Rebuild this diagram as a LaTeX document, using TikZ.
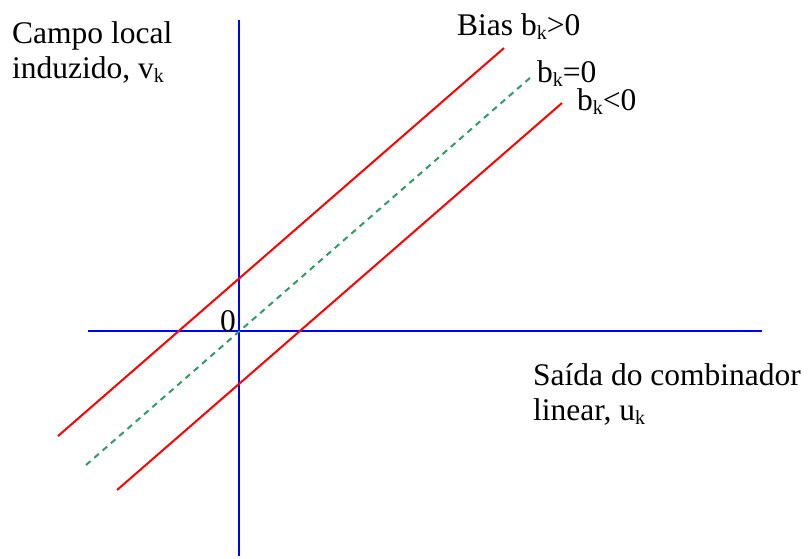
\documentclass[tikz,border=0pt]{standalone}
\usepackage{fontspec}
\setmainfont{Liberation Serif}
\usepackage{tikz}
\usetikzlibrary{positioning}
\definecolor{biasgreen}{RGB}{51, 153, 102}
\newcommand{\lowsub}[1]{\raisebox{-4pt}{\fontsize{20}{20}\selectfont #1}}

\begin{document}
\begin{tikzpicture}[x=1pt, y=-1pt, every node/.style={font=\fontsize{31.5}{35}\selectfont, inner sep=0pt, anchor=base west}]
    \useasboundingbox (0,0) rectangle (810,558);
    % Axes
    \coordinate (vtop) at (239,20);
    \coordinate (vbot) at (239,556);
    \coordinate (hleft) at (88,331);
    \coordinate (hright) at (762,331);
    \draw [blue, line width=2.2pt] (vbot) -- (vtop);
    \draw [blue, line width=2.2pt] (hleft) -- (hright);

    % Bias lines
    \coordinate (pstart) at (58,436);
    \coordinate (pend) at (504,48);
    \coordinate (zstart) at (86,465);
    \coordinate (zend) at (531,77);
    \coordinate (nstart) at (117,490);
    \coordinate (nend) at (562,103);
    \draw [red, line width=2pt] (pstart) -- (pend);
    \draw [biasgreen, line width=2pt, dash pattern=on 6pt off 5pt] (zstart) -- (zend);
    \draw [red, line width=2pt] (nstart) -- (nend);

    % Labels
    \node (vlabel) at (12,43) {Campo local};
    \node (vlabel2) at (12,78) {induzido, v\lowsub{k}};
    \node (pos) at (457,35) {Bias b\lowsub{k}>0};
    \node (zero) at (537,82) {b\lowsub{k}=0};
    \node (neg) at (577,110) {b\lowsub{k}<0};
    \node (origin) [anchor=base east] at (236,331) {0};
    \node (ulabel) at (533,385) {Saída do combinador};
    \node (ulabel2) at (533,420) {linear, u\lowsub{k}};
\end{tikzpicture}
\end{document}
